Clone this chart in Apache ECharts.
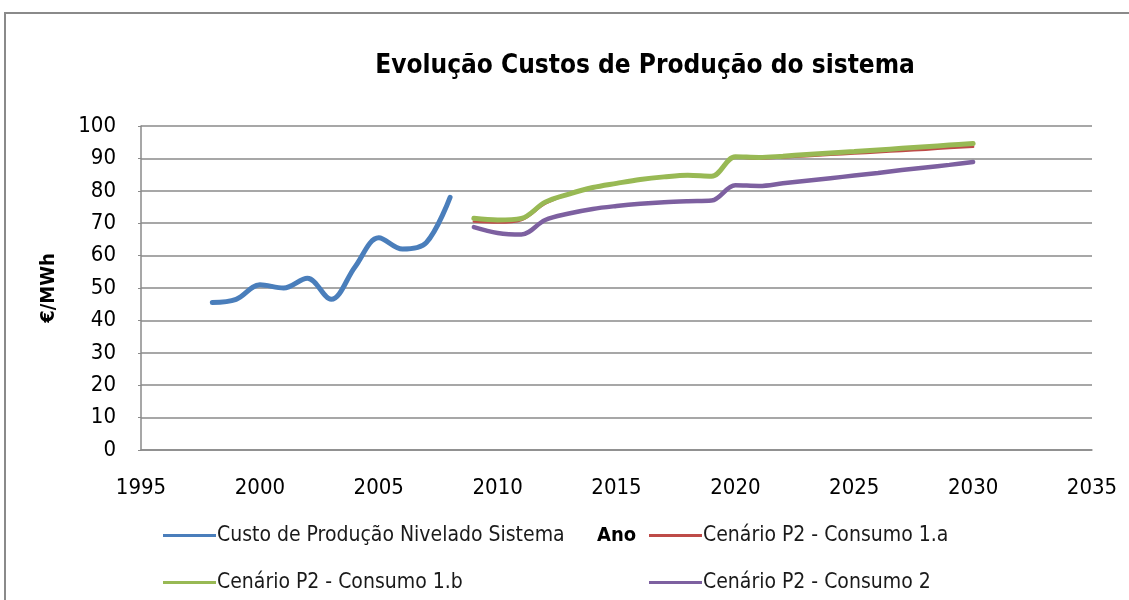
<!DOCTYPE html>
<html>
<head>
<meta charset="utf-8">
<title>Evolução Custos de Produção do sistema</title>
<script src="https://cdn.jsdelivr.net/npm/echarts@6/dist/echarts.min.js"></script>
<style>
  html, body { margin: 0; padding: 0; background: #ffffff; }
  #chart { width: 1129px; height: 600px; }
</style>
</head>
<body>
<div id="chart"></div>
<script>
// Historical levelised system production cost (€/MWh)
const histYears = [1998, 1999, 2000, 2001, 2002, 2003, 2004, 2005, 2006, 2007, 2008];
const histCost  = [45.5, 46.5, 51, 50, 53, 46.5, 56.5, 65.5, 62, 64, 78];

// Scenario projections (€/MWh)
const scenYears = [2009, 2010, 2011, 2012, 2013, 2014, 2015, 2016, 2017, 2018, 2019,
                   2020, 2021, 2022, 2023, 2024, 2025, 2026, 2027, 2028, 2029, 2030];
const consumo1a = [70.5, 70.2, 71, 76, 79, 81, 82.2, 83.4, 84.2, 84.7, 84.4,
                   90.3, 90, 90.3, 90.7, 91.1, 91.5, 91.9, 92.3, 92.7, 93.2, 93.6];
const consumo1b = [71.5, 71, 71.5, 76.5, 79, 81, 82.3, 83.5, 84.3, 84.8, 84.5,
                   90.5, 90.3, 90.7, 91.2, 91.7, 92.1, 92.6, 93.1, 93.6, 94.1, 94.6];
const consumo2  = [68.8, 67, 66.5, 71, 73, 74.4, 75.3, 76, 76.5, 76.8, 77,
                   81.7, 81.5, 82.3, 83.1, 83.9, 84.7, 85.5, 86.4, 87.2, 88, 88.9];

const seriesNames = [
  'Custo de Produção Nivelado Sistema',
  'Cenário P2 - Consumo 1.a',
  'Cenário P2 - Consumo 1.b',
  'Cenário P2 - Consumo 2'
];
const colors = ['#4a7ebb', '#be4b48', '#98b954', '#7d60a0'];

const NARROW = '"DejaVu Sans Condensed", "Liberation Sans Narrow", sans-serif';

function pairs(xs, ys) { return xs.map((x, i) => [x, ys[i]]); }

function legendAt(name, left, top) {
  return {
    data: [name], left: left, top: top, orient: 'horizontal',
    icon: 'rect', itemWidth: 53, itemHeight: 3, itemGap: 4,
    textStyle: { fontFamily: NARROW, fontSize: 21, color: '#1a1a1a', padding: [0, 0, 0, -4] },
    selectedMode: false
  };
}

function lineSeries(idx, xs, ys, width, z) {
  return {
    name: seriesNames[idx], type: 'line', smooth: 0.35, showSymbol: false,
    data: pairs(xs, ys),
    itemStyle: { color: colors[idx] },
    lineStyle: { width: width, color: colors[idx], cap: 'round' },
    z: z
  };
}

const chart = echarts.init(document.getElementById('chart'), null, { renderer: 'canvas' });

chart.setOption({
  backgroundColor: '#ffffff',
  animation: false,
  title: {
    text: 'Evolução Custos de Produção do sistema',
    left: 640, top: 48, textAlign: 'center',
    textStyle: { fontFamily: NARROW, fontSize: 26, fontWeight: 'bold', color: '#000' }
  },
  graphic: [{
    type: 'rect',
    shape: { x: 5, y: 13, width: 1300, height: 700 },
    style: { fill: 'none', stroke: '#8a8a8a', lineWidth: 2 },
    silent: true
  }],
  legend: [
    legendAt(seriesNames[0], 158, 520),
    legendAt(seriesNames[1], 644, 520),
    legendAt(seriesNames[2], 158, 567),
    legendAt(seriesNames[3], 644, 567)
  ],
  grid: { left: 141, right: 37, top: 126, bottom: 150 },
  xAxis: {
    type: 'value', min: 1995, max: 2035, interval: 5,
    name: 'Ano', nameLocation: 'middle', nameGap: 76,
    nameTextStyle: { fontFamily: NARROW, fontSize: 20, fontWeight: 'bold', color: '#000' },
    axisLine: { show: true, lineStyle: { color: '#8a8a8a', width: 1.5 } },
    axisTick: { show: false },
    splitLine: { show: false },
    axisLabel: {
      fontFamily: NARROW, fontSize: 22, color: '#000', margin: 27,
      formatter: v => String(v)
    }
  },
  yAxis: {
    type: 'value', min: 0, max: 100, interval: 10,
    name: '€/MWh', nameLocation: 'middle', nameGap: 82, nameRotate: 90,
    nameTextStyle: { fontFamily: NARROW, fontSize: 20, fontWeight: 'bold', color: '#000' },
    axisLine: { show: true, lineStyle: { color: '#8a8a8a', width: 1.5 } },
    axisTick: { show: true, length: 3, lineStyle: { color: '#8a8a8a' } },
    splitLine: { show: true, lineStyle: { color: '#8a8a8a', width: 1.5 } },
    axisLabel: { fontFamily: NARROW, fontSize: 22, color: '#000', margin: 25 }
  },
  series: [
    lineSeries(0, histYears, histCost, 5, 3),
    lineSeries(2, scenYears, consumo1b, 5, 3),
    lineSeries(1, scenYears, consumo1a, 2.5, 2),
    lineSeries(3, scenYears, consumo2, 4.5, 3)
  ]
});
</script>
</body>
</html>
